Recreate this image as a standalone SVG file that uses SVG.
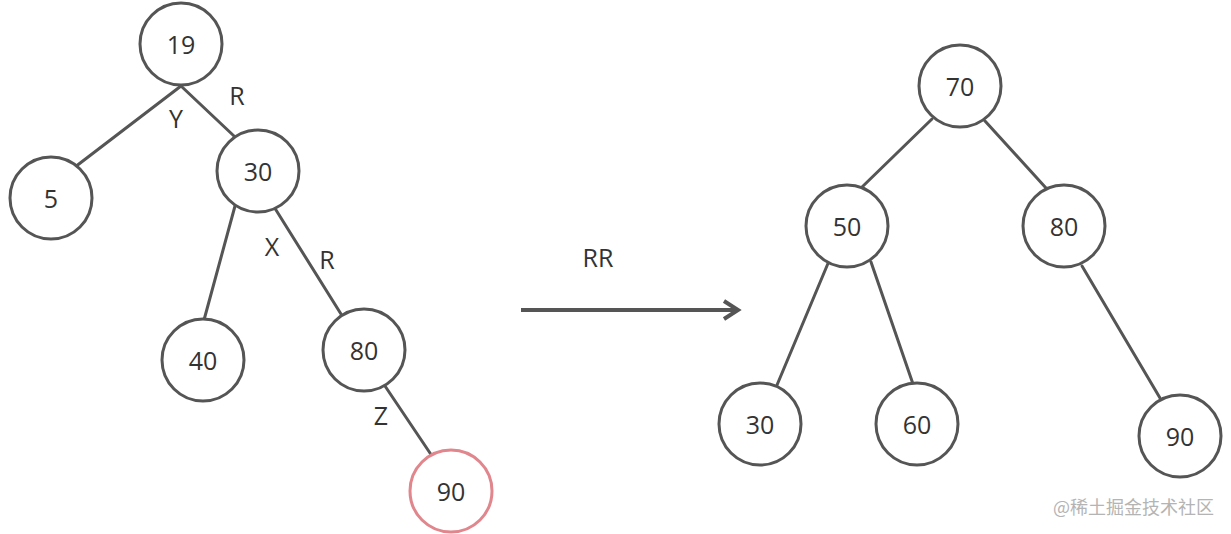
<svg xmlns="http://www.w3.org/2000/svg" width="1231" height="534" viewBox="0 0 1231 534">
<style>
.n circle{fill:#fff;stroke:#555;stroke-width:3}
.n.red circle{stroke:#e0868c}
text{font-family:"Open Sans","Noto Sans",sans-serif;font-size:25px;fill:#333;text-anchor:middle;dominant-baseline:central}
.e line{stroke:#555;stroke-width:3;stroke-linecap:round}
.wm{font-family:"Noto Sans CJK SC",sans-serif;font-size:18px;fill:#b4b4b4;text-anchor:start}
</style>
<defs>
<marker id="arr" markerUnits="userSpaceOnUse" markerWidth="24" markerHeight="24" refX="18" refY="12" orient="auto">
<path d="M4,3 L18,12 L4,21" fill="none" stroke="#555" stroke-width="4" stroke-linejoin="miter"/>
</marker>
</defs>
<g id="connectors" class="e">
<line x1="181" y1="86" x2="75" y2="167"/>
<line x1="181" y1="86" x2="234" y2="136"/>
<line x1="235" y1="206" x2="204" y2="320"/>
<line x1="276" y1="210" x2="341" y2="314"/>
<line x1="385" y1="386" x2="432" y2="456"/>
<line x1="932" y1="119" x2="861" y2="188"/>
<line x1="985" y1="121" x2="1046" y2="188"/>
<line x1="829" y1="261" x2="777" y2="385"/>
<line x1="871" y1="262" x2="913" y2="384"/>
<line x1="1082" y1="266" x2="1160" y2="398"/>
<line x1="521" y1="310" x2="738" y2="310" style="stroke-width:4;stroke-linecap:butt" marker-end="url(#arr)"/>
</g>
<g id="labels">
<text x="237" y="95">R</text>
<text x="176" y="118">Y</text>
<text x="272" y="246">X</text>
<text x="327" y="259">R</text>
<text x="381" y="415">Z</text>
<text x="598" y="257">RR</text>
</g>
<g id="n19" class="n"><circle cx="181" cy="44" r="41"/><text x="181" y="44">19</text></g>
<g id="n5" class="n"><circle cx="51" cy="198" r="41"/><text x="51" y="198">5</text></g>
<g id="n30a" class="n"><circle cx="258" cy="171" r="41"/><text x="258" y="171">30</text></g>
<g id="n40" class="n"><circle cx="203" cy="360" r="41"/><text x="203" y="360">40</text></g>
<g id="n80a" class="n"><circle cx="364" cy="350" r="41"/><text x="364" y="350">80</text></g>
<g id="n90a" class="n red"><circle cx="451" cy="491" r="41"/><text x="451" y="491">90</text></g>
<g id="n70" class="n"><circle cx="960" cy="86" r="41"/><text x="960" y="86">70</text></g>
<g id="n50" class="n"><circle cx="847" cy="226" r="41"/><text x="847" y="226">50</text></g>
<g id="n80b" class="n"><circle cx="1064" cy="226" r="41"/><text x="1064" y="226">80</text></g>
<g id="n30b" class="n"><circle cx="760" cy="424" r="41"/><text x="760" y="424">30</text></g>
<g id="n60" class="n"><circle cx="917" cy="424" r="41"/><text x="917" y="424">60</text></g>
<g id="n90b" class="n"><circle cx="1180" cy="436" r="41"/><text x="1180" y="436">90</text></g>
<text class="wm" x="1053" y="506" dominant-baseline="central">@稀土掘金技术社区</text>
</svg>
